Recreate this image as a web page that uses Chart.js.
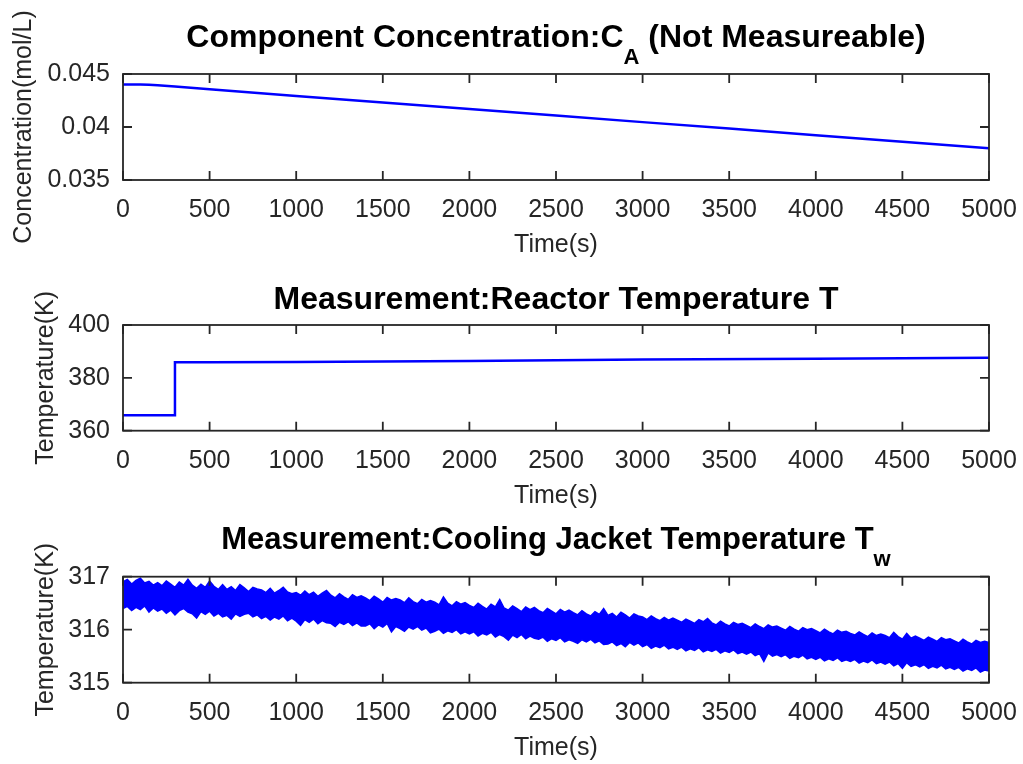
<!DOCTYPE html>
<html><head><meta charset="utf-8">
<script src="https://cdn.jsdelivr.net/npm/chart.js@4.4.1/dist/chart.umd.min.js"></script>
<style>
html,body{margin:0;padding:0;background:#fff;}
#wrap{position:relative;width:1023px;height:764px;overflow:hidden;background:#fff}
canvas{position:absolute;left:0}
</style></head><body>
<div id="wrap">
<canvas id="c1" width="1023" height="270" style="top:0"></canvas>
<canvas id="c2" width="1023" height="250" style="top:270px"></canvas>
<canvas id="c3" width="1023" height="244" style="top:520px"></canvas>
</div>
<script>
// ---- data ----
const timeCA = [0, 100, 150, 200, 300, 500, 1000, 1500, 2000, 2500, 3000, 3500, 4000, 4500, 5000];
const concCA = [0.04400, 0.04400, 0.04398, 0.04393, 0.04382, 0.04356, 0.04293, 0.04231, 0.04170, 0.04108, 0.04046, 0.03985, 0.03923, 0.03861, 0.03800];

const timeT = [0, 300, 300, 500, 1000, 2000, 3000, 4000, 5000];
const tempT = [365.8, 365.8, 385.9, 385.9, 386.0, 386.4, 386.9, 387.2, 387.6];

const twStep = 25; // sampling interval (s) of the envelope values below
const twHigh = [
316.90,316.95,316.86,316.93,316.97,316.88,316.91,316.84,
316.89,316.83,316.92,316.86,316.80,316.90,316.84,316.95,
316.84,316.78,316.86,316.80,316.92,316.82,316.76,316.85,
316.76,316.81,316.74,316.85,316.79,316.72,316.80,316.77,
316.75,316.70,316.78,316.69,316.74,316.80,316.71,316.68,
316.70,316.65,316.73,316.66,316.71,316.63,316.69,316.74,
316.65,316.60,316.68,316.62,316.57,316.66,316.61,316.64,
316.60,316.55,316.63,316.58,316.52,316.61,316.56,316.59,
316.56,316.51,316.60,316.53,316.49,316.57,316.52,316.55,
316.52,316.47,316.62,316.50,316.45,316.53,316.48,316.51,
316.46,316.42,316.50,316.44,316.39,316.48,316.43,316.57,
316.41,316.37,316.45,316.40,316.34,316.43,316.38,316.42,
316.36,316.32,316.40,316.35,316.30,316.38,316.33,316.37,
316.32,316.28,316.36,316.30,316.26,316.34,316.29,316.40,
316.27,316.31,316.24,316.33,316.28,316.22,316.30,316.26,
316.24,316.19,316.26,316.21,316.17,316.23,316.18,316.22,
316.18,316.14,316.20,316.16,316.12,316.19,316.15,316.21,
316.13,316.09,316.16,316.11,316.07,316.14,316.10,316.12,
316.08,316.04,316.11,316.06,316.02,316.09,316.05,316.07,
316.03,315.99,316.06,316.01,315.97,316.04,316.00,316.02,
315.98,315.94,316.01,315.96,315.92,315.99,315.95,315.97,
315.93,315.90,315.96,315.91,315.87,315.94,315.89,315.92,
315.89,315.85,315.95,315.87,315.82,315.93,315.84,315.88,
315.84,315.80,315.86,315.82,315.78,315.85,315.81,315.83,
315.79,315.75,315.82,315.77,315.73,315.80,315.76,315.78,
315.76];
const twLow = [
316.40,316.44,316.36,316.42,316.38,316.45,316.33,316.41,
316.35,316.39,316.31,316.37,316.28,316.36,316.40,316.33,
316.30,316.22,316.34,316.29,316.35,316.26,316.31,316.24,
316.27,316.20,316.30,316.25,316.29,316.31,316.24,316.28,
316.21,316.25,316.18,316.24,316.20,316.26,316.17,316.22,
316.16,316.08,316.19,316.14,316.20,316.11,316.17,316.13,
316.12,316.06,316.14,316.10,316.15,316.08,316.13,316.07,
316.07,316.11,316.02,316.09,316.05,316.12,315.96,316.06,
316.02,315.97,316.05,316.01,316.06,315.99,316.03,315.94,
315.97,316.01,315.93,315.98,315.95,316.00,315.92,315.96,
315.92,315.96,315.88,315.93,315.90,315.95,315.86,315.91,
315.87,315.80,315.90,315.85,315.91,315.83,315.88,315.84,
315.82,315.86,315.78,315.83,315.80,315.85,315.77,315.81,
315.78,315.74,315.81,315.77,315.82,315.75,315.79,315.72,
315.73,315.77,315.70,315.74,315.68,315.76,315.71,315.75,
315.68,315.72,315.65,315.69,315.66,315.71,315.64,315.67,
315.63,315.67,315.60,315.64,315.61,315.66,315.58,315.62,
315.59,315.63,315.56,315.60,315.57,315.62,315.55,315.58,
315.54,315.58,315.51,315.55,315.40,315.56,315.50,315.53,
315.49,315.53,315.46,315.50,315.47,315.52,315.45,315.48,
315.44,315.48,315.41,315.45,315.42,315.47,315.40,315.43,
315.40,315.44,315.37,315.41,315.38,315.43,315.36,315.39,
315.35,315.39,315.32,315.36,315.27,315.38,315.31,315.34,
315.30,315.34,315.27,315.31,315.28,315.33,315.26,315.29,
315.25,315.29,315.22,315.26,315.23,315.28,315.20,315.24,
315.22];

const xTicks = {min: 0, max: 5000, step: 500};
const yTicksCA = {min: 0.035, max: 0.045, step: 0.005};
const yTicksT = {min: 360, max: 400, step: 20};
const yTicksTw = {min: 315, max: 317, step: 1};

// ---- styling ----
const FONT = '"Liberation Sans", Arial, Helvetica, sans-serif';
const AX = '#262626';
const BLUE = '#0000ff';

function matlabAxes(title) {
  return {
    id: 'matlabAxes',
    afterDraw(chart) {
      const {ctx, chartArea: a, scales: {x, y}} = chart;
      ctx.save();
      ctx.strokeStyle = AX;
      ctx.lineWidth = 1.8;
      ctx.strokeRect(a.left, a.top, a.right - a.left, a.bottom - a.top);
      const L = 9;
      ctx.beginPath();
      x.ticks.forEach(t => {
        const p = x.getPixelForValue(t.value);
        ctx.moveTo(p, a.bottom); ctx.lineTo(p, a.bottom - L);
        ctx.moveTo(p, a.top); ctx.lineTo(p, a.top + L);
      });
      y.ticks.forEach(t => {
        const p = y.getPixelForValue(t.value);
        ctx.moveTo(a.left, p); ctx.lineTo(a.left + L, p);
        ctx.moveTo(a.right, p); ctx.lineTo(a.right - L, p);
      });
      ctx.stroke();
      // title with optional subscript
      const mainFont = 'bold ' + title.size + 'px ' + FONT;
      const subFont = 'bold 22px ' + FONT;
      ctx.fillStyle = '#000';
      ctx.textBaseline = 'alphabetic';
      ctx.textAlign = 'left';
      ctx.font = mainFont;
      const w1 = ctx.measureText(title.main).width;
      const w3 = title.rest ? ctx.measureText(title.rest).width : 0;
      ctx.font = subFont;
      const w2 = title.sub ? ctx.measureText(title.sub).width : 0;
      const cx = (a.left + a.right) / 2;
      let sx = cx - (w1 + w2 + w3) / 2;
      ctx.font = mainFont;
      ctx.fillText(title.main, sx, title.baseline);
      if (title.sub) {
        ctx.font = subFont;
        ctx.fillText(title.sub, sx + w1, title.baseline + 17);
      }
      if (title.rest) {
        ctx.font = mainFont;
        ctx.fillText(title.rest, sx + w1 + w2, title.baseline);
      }
      ctx.restore();
    }
  };
}

function makeChart(id, datasets, yT, yLabel, opts) {
  const fmtY = yT.fmt || (v => String(v));
  return new Chart(document.getElementById(id), {
    type: 'line',
    data: {datasets},
    options: {
      responsive: false,
      animation: false,
      events: [],
      layout: {padding: {top: opts.top, right: 34, left: 0, bottom: 0}},
      plugins: {legend: {display: false}, tooltip: {enabled: false}, title: {display: false}},
      elements: {point: {radius: 0}, line: {tension: 0}},
      scales: {
        x: {
          type: 'linear', min: xTicks.min, max: xTicks.max,
          afterFit(s) { s.height = opts.xh; s.paddingLeft = 0; s.paddingRight = 0; },
          grid: {display: false, drawTicks: false}, border: {display: false},
          ticks: {stepSize: xTicks.step, autoSkip: false, maxRotation: 0, padding: 15, color: AX,
                  font: {family: FONT, size: 25}, callback: v => String(v)},
          title: {display: true, text: 'Time(s)', color: AX, font: {family: FONT, size: 25},
                  padding: {top: 0, bottom: opts.xtb}}
        },
        y: {
          type: 'linear', min: yT.min, max: yT.max,
          afterFit(s) { s.width = 123; s.paddingTop = 0; s.paddingBottom = 0; },
          grid: {display: false, drawTicks: false}, border: {display: false},
          ticks: {stepSize: yT.step, padding: 13, color: AX, font: {family: FONT, size: 25},
                  callback: v => fmtY(v)},
          title: {display: true, text: yLabel, color: AX, font: {family: FONT, size: 25},
                  padding: {top: opts.ytp, bottom: 0}}
        }
      }
    },
    plugins: [matlabAxes(opts.title)]
  });
}

const caPts = timeCA.map((t, i) => ({x: t, y: concCA[i]}));
const tPts = timeT.map((t, i) => ({x: t, y: tempT[i]}));
const twHiPts = twHigh.map((v, i) => ({x: i * twStep, y: v}));
const twLoPts = twLow.map((v, i) => ({x: i * twStep, y: v}));

makeChart('c1', [{data: caPts, borderColor: BLUE, borderWidth: 2.5, fill: false}],
  Object.assign({fmt: v => String(Number(v.toFixed(3)))}, yTicksCA), 'Concentration(mol/L)',
  {top: 74, xh: 90, xtb: 10, ytp: 9,
   title: {main: 'Component Concentration:C', sub: 'A', rest: ' (Not Measureable)', baseline: 47, size: 32}});

makeChart('c2', [{data: tPts, borderColor: BLUE, borderWidth: 2.5, fill: false}],
  yTicksT, 'Temperature(K)',
  {top: 55, xh: 89.3, xtb: 9, ytp: 31,
   title: {main: 'Measurement:Reactor Temperature T', sub: '', rest: '', baseline: 39, size: 32}});

makeChart('c3', [
    {data: twHiPts, borderColor: BLUE, borderWidth: 1.5, fill: '+1', backgroundColor: BLUE},
    {data: twLoPts, borderColor: BLUE, borderWidth: 1.5, fill: false}
  ],
  yTicksTw, 'Temperature(K)',
  {top: 56.7, xh: 81.3, xtb: 1, ytp: 31,
   title: {main: 'Measurement:Cooling Jacket Temperature T', sub: 'w', rest: '', baseline: 29, size: 31}});
</script>
</body></html>
